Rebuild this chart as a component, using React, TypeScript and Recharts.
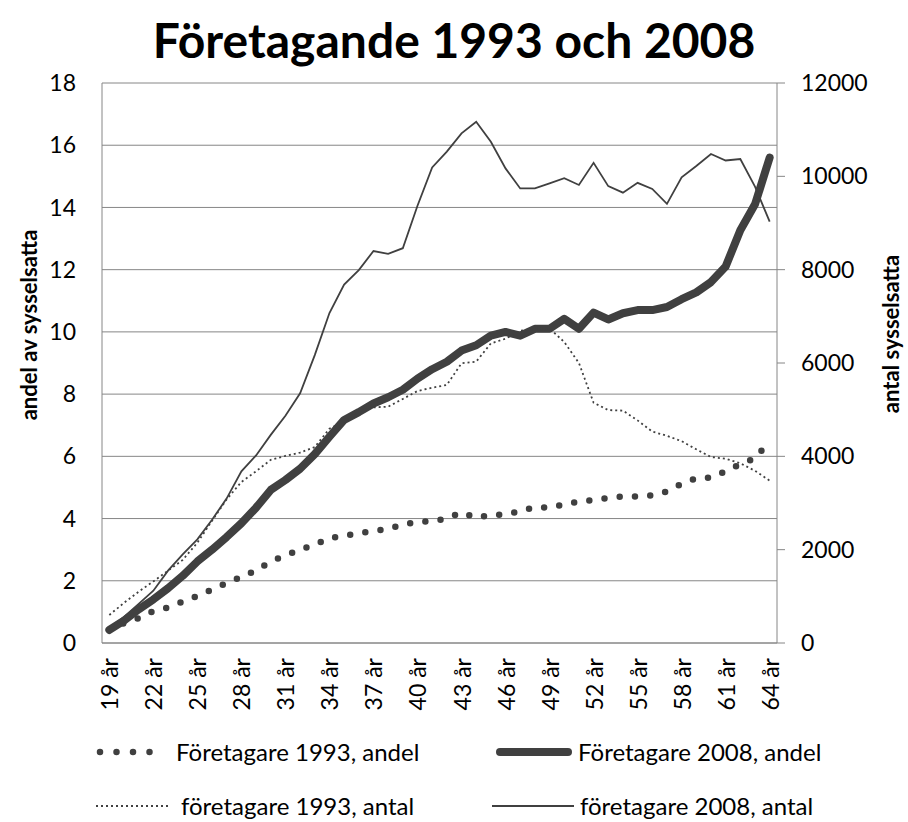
import React from 'react';
import { LineChart, Line, XAxis, YAxis, CartesianGrid } from 'recharts';

const ages = [
  '19 år', '20 år', '21 år', '22 år', '23 år', '24 år', '25 år', '26 år', '27 år', '28 år',
  '29 år', '30 år', '31 år', '32 år', '33 år', '34 år', '35 år', '36 år', '37 år', '38 år',
  '39 år', '40 år', '41 år', '42 år', '43 år', '44 år', '45 år', '46 år', '47 år', '48 år',
  '49 år', '50 år', '51 år', '52 år', '53 år', '54 år', '55 år', '56 år', '57 år', '58 år',
  '59 år', '60 år', '61 år', '62 år', '63 år', '64 år',
];

const andel1993 = [
  0.42, 0.64, 0.80, 1.03, 1.14, 1.33, 1.51, 1.72, 1.93, 2.12,
  2.33, 2.62, 2.81, 3.00, 3.16, 3.37, 3.45, 3.53, 3.60, 3.66,
  3.81, 3.89, 3.92, 4.00, 4.20, 4.03, 4.12, 4.13, 4.24, 4.37,
  4.35, 4.45, 4.55, 4.59, 4.66, 4.71, 4.71, 4.75, 4.87, 5.12,
  5.30, 5.31, 5.52, 5.75, 5.93, 6.5,
];

const andel2008 = [
  0.42, 0.72, 1.08, 1.40, 1.76, 2.16, 2.62, 3.00, 3.41, 3.85,
  4.35, 4.92, 5.24, 5.60, 6.07, 6.63, 7.17, 7.42, 7.70, 7.90,
  8.14, 8.50, 8.80, 9.04, 9.40, 9.57, 9.88, 10.0, 9.88, 10.1,
  10.1, 10.42, 10.1, 10.62, 10.4, 10.6, 10.7, 10.7, 10.8, 11.05,
  11.27, 11.6, 12.1, 13.27, 14.1, 15.6,
];

const antal1993 = [
  600, 860, 1100, 1320, 1550, 1780, 2150, 2620, 3080, 3450,
  3680, 3925, 4010, 4080, 4200, 4590, 4750, 4950, 5050, 5064,
  5230, 5400, 5470, 5530, 5994, 6029, 6420, 6520, 6690, 6735,
  6740, 6450, 6000, 5150, 4990, 4980, 4770, 4530, 4440, 4325,
  4150, 3985, 3950, 3850, 3690, 3480,
];

const antal2008 = [
  320, 560, 840, 1120, 1550, 1900, 2220, 2640, 3100, 3680,
  4020, 4460, 4870, 5350, 6170, 7070, 7680, 7990, 8400, 8340,
  8460, 9370, 10190, 10530, 10920, 11170, 10740, 10170, 9740, 9740,
  9850, 9960, 9815, 10290, 9790, 9650, 9860, 9730, 9410, 9980,
  10220, 10480, 10340, 10370, 9780, 9030,
];

const leftTicks = [0, 2, 4, 6, 8, 10, 12, 14, 16, 18];
const rightTicks = [0, 2000, 4000, 6000, 8000, 10000, 12000];

const seriesNames = [
  'Företagare 1993, andel',
  'Företagare 2008, andel',
  'företagare 1993, antal',
  'företagare 2008, antal',
];

const titleText = 'Företagande 1993 och 2008';
const leftTitle = 'andel av sysselsatta';
const rightTitle = 'antal sysselsatta';

const data = ages.map((age, i) => ({
  age,
  a93: andel1993[i],
  a08: andel2008[i],
  n93: antal1993[i],
  n08: antal2008[i],
}));

const FONT = "Lato, 'Open Sans', sans-serif";
const INK = '#404040';
const GRID = '#868686';

const XTick = (props: any) => {
  const { x, y, payload } = props;
  return (
    <text
      x={0}
      y={0}
      transform={`translate(${x},${y}) rotate(-90)`}
      textAnchor="end"
      dominantBaseline="central"
      fontSize={23}
      fontFamily={FONT}
      fill="#000"
    >
      {payload.value}
    </text>
  );
};

const LeftTitle = () => (
  <text
    x={28}
    y={325}
    transform="rotate(-90 28 325)"
    textAnchor="middle"
    dominantBaseline="central"
    fontSize={22}
    fontWeight={700}
    fontFamily={FONT}
    fill="#000"
  >
    {leftTitle}
  </text>
);

const RightTitle = () => (
  <text
    x={890}
    y={334}
    transform="rotate(-90 890 334)"
    textAnchor="middle"
    dominantBaseline="central"
    fontSize={22}
    fontWeight={700}
    fontFamily={FONT}
    fill="#000"
  >
    {rightTitle}
  </text>
);

const LegendSymbol = ({ kind }: { kind: number }) => {
  if (kind === 0) {
    return (
      <svg width={76} height={14} style={{ display: 'block' }}>
        <line x1={4} x2={70} y1={7} y2={7} stroke={INK} strokeWidth={6.5} strokeDasharray="0 16.5" strokeLinecap="round" />
      </svg>
    );
  }
  if (kind === 1) {
    return (
      <svg width={80} height={14} style={{ display: 'block' }}>
        <line x1={6} x2={74} y1={7} y2={7} stroke={INK} strokeWidth={8} strokeLinecap="round" />
      </svg>
    );
  }
  if (kind === 2) {
    return (
      <svg width={76} height={14} style={{ display: 'block' }}>
        <line x1={1} x2={73} y1={7} y2={7} stroke={INK} strokeWidth={1.8} strokeDasharray="2 3" />
      </svg>
    );
  }
  return (
    <svg width={84} height={14} style={{ display: 'block' }}>
      <line x1={0} x2={82} y1={7} y2={7} stroke={INK} strokeWidth={1.8} />
    </svg>
  );
};

const legendLayout = [
  { sx: 96, tx: 176, y: 752 },
  { sx: 494, tx: 578, y: 752 },
  { sx: 95, tx: 181, y: 806 },
  { sx: 492, tx: 580, y: 806 },
];

export default function App() {
  return (
    <div style={{ position: 'absolute', left: 0, top: 0, width: 908, height: 822, background: '#fff', fontFamily: FONT }}>
      <div
        style={{
          position: 'absolute',
          left: 0,
          top: 11,
          width: 908,
          textAlign: 'center',
          fontSize: 48,
          fontWeight: 700,
          lineHeight: '58px',
          color: '#000',
        }}
      >
        {titleText}
      </div>
      <LineChart
        width={908}
        height={822}
        data={data}
        margin={{ top: 83, right: 0, left: 0, bottom: 119 }}
        style={{ position: 'absolute', left: 0, top: 0 }}
      >
        <CartesianGrid vertical={false} stroke={GRID} strokeWidth={1} />
        <XAxis
          dataKey="age"
          interval={2}
          height={60}
          padding={{ left: 7.33, right: 7.33 }}
          axisLine={{ stroke: GRID, strokeWidth: 1 }}
          tickLine={false}
          tickSize={0}
          tickMargin={15}
          tick={<XTick />}
        />
        <YAxis
          domain={[0, 18]}
          ticks={leftTicks}
          width={102}
          axisLine={{ stroke: GRID, strokeWidth: 1 }}
          tickLine={false}
          tickSize={0}
          tickMargin={26}
          tick={{ fill: '#000', fontSize: 23, fontFamily: FONT }}
          label={<LeftTitle />}
        />
        <YAxis
          yAxisId="right"
          orientation="right"
          domain={[0, 12000]}
          ticks={rightTicks}
          width={131}
          axisLine={{ stroke: GRID, strokeWidth: 1 }}
          tickLine={{ stroke: GRID, strokeWidth: 1 }}
          tickSize={8}
          tickMargin={16}
          tick={{ fill: '#000', fontSize: 23, fontFamily: FONT, textAnchor: 'start' }}
          label={<RightTitle />}
        />
        <Line
          dataKey="a93"
          name={seriesNames[0]}
          type="linear"
          stroke={INK}
          strokeWidth={6.5}
          strokeDasharray="0 15.3"
          strokeLinecap="round"
          dot={false}
          activeDot={false}
          isAnimationActive={false}
        />
        <Line
          dataKey="a08"
          name={seriesNames[1]}
          type="linear"
          stroke={INK}
          strokeWidth={8}
          strokeLinecap="round"
          strokeLinejoin="round"
          dot={false}
          activeDot={false}
          isAnimationActive={false}
        />
        <Line
          dataKey="n93"
          name={seriesNames[2]}
          yAxisId="right"
          type="linear"
          stroke={INK}
          strokeWidth={1.8}
          strokeDasharray="2 3"
          dot={false}
          activeDot={false}
          isAnimationActive={false}
        />
        <Line
          dataKey="n08"
          name={seriesNames[3]}
          yAxisId="right"
          type="linear"
          stroke={INK}
          strokeWidth={1.8}
          dot={false}
          activeDot={false}
          isAnimationActive={false}
        />
      </LineChart>
      {seriesNames.map((name, i) => {
        const l = legendLayout[i];
        return (
          <React.Fragment key={name}>
            <div style={{ position: 'absolute', left: l.sx, top: l.y - 7 }}>
              <LegendSymbol kind={i} />
            </div>
            <div
              style={{
                position: 'absolute',
                left: l.tx,
                top: l.y - 15,
                height: 30,
                lineHeight: '30px',
                fontSize: 24,
                color: '#000',
                whiteSpace: 'nowrap',
              }}
            >
              {name}
            </div>
          </React.Fragment>
        );
      })}
    </div>
  );
}
